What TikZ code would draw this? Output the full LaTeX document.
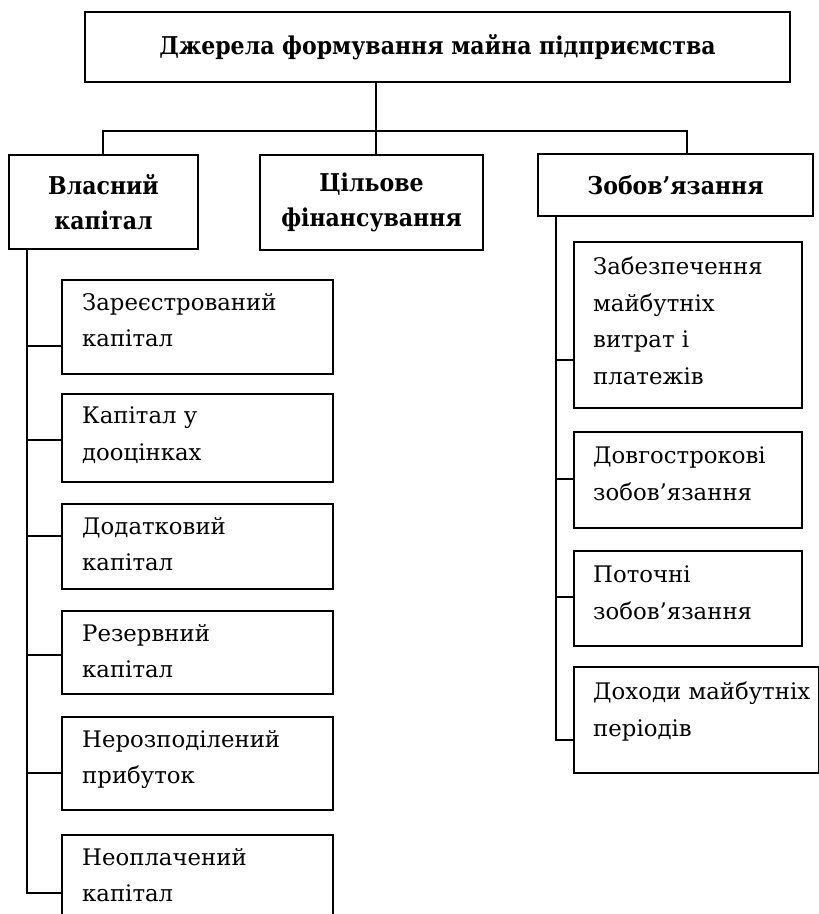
\documentclass[tikz,border=0pt]{standalone}
\usepackage{fontspec}
\setmainfont{DejaVu Serif}
\newfontfamily\headfont{DejaVu Serif Condensed}
\usetikzlibrary{calc}

\tikzset{
	box/.style={draw, line width=1.8pt, inner sep=0pt},
	headbox/.style={box, align=center,
		font=\headfont\bfseries\fontsize{24.5}{35}\selectfont},
	subbox/.style={box, anchor=north west},
	subtxt/.style={anchor=north west, inner sep=0pt, align=left,
		font=\fontsize{22.8}{36.5}\selectfont},
	link/.style={line width=1.8pt, line cap=rect}
}

\begin{document}
\begin{tikzpicture}[x=1pt,y=-1pt]
	\useasboundingbox (0,0) rectangle (819,914);
	\clip (0,0) rectangle (819,914);
	
	% top level
	\node[headbox, minimum width=705pt, minimum height=70pt] (src) at (437.5,47)
	{Джерела формування майна підприємства};
	\node[headbox, minimum width=189pt, minimum height=94pt] (own) at (103.5,202)
	{Власний\\капітал};
	\node[headbox, minimum width=223pt, minimum height=95pt] (fin) at (371.5,202.5)
	{Цільове\\фінансування};
	\node[headbox, minimum width=275pt, minimum height=62pt] (obl) at (675.5,185)
	{Зобов’язання};
	
	% branching under the title
	\coordinate (j1) at (103,131);
	\coordinate (j2) at (376,131);
	\coordinate (j3) at (687,131);
	\draw[link] (src.south -| j2) -- (fin.north -| j2);
	\draw[link] (own.north -| j1) -- (j1) -- (j3) -- (obl.north -| j3);
	
	% own capital items
	\coordinate (lend) at (27,893);
	\draw[link] (own.south -| lend) -- (lend);
	\foreach \n/\ty/\h/\cy/\txt in {
		1/279/94/346/{Зареєстрований\\капітал},
		2/393/88/440/{Капітал у\\дооцінках},
		3/503/85/536/{Додатковий\\капітал},
		4/610/83/655/{Резервний\\капітал},
		5/716/93/773/{Нерозподілений\\прибуток},
		6/834/100/893/{Неоплачений\\капітал}}{
		\node[subbox, minimum width=271pt, minimum height=\h pt] (own\n) at (61,\ty) {};
		\node[subtxt] at ([shift={(21,14)}]own\n.north west) {\txt};
		\draw[link] (lend |- 0,\cy) -- (own\n.west |- 0,\cy);
	}
	
	% liabilities items
	\coordinate (rend) at (556,740);
	\draw[link] (obl.south -| rend) -- (rend);
	\foreach \n/\ty/\w/\h/\cy/\txt in {
		1/241/228/166/360/{Забезпечення\\майбутніх\\витрат і\\платежів},
		2/431/228/96/479/{Довгострокові\\зобов’язання},
		3/550/228/95/597/{Поточні\\зобов’язання},
		4/666/245/106/740/{Доходи майбутніх\\періодів}}{
		\node[subbox, minimum width=\w pt, minimum height=\h pt] (obl\n) at (573,\ty) {};
		\node[subtxt] at ([shift={(20,16)}]obl\n.north west) {\txt};
		\draw[link] (rend |- 0,\cy) -- (obl\n.west |- 0,\cy);
	}
	
\end{tikzpicture}
\end{document}
